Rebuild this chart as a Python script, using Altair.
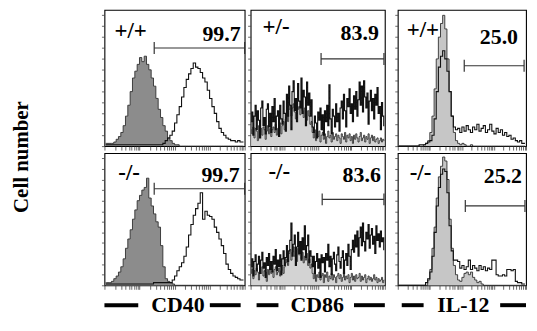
import math
import altair as alt
import pandas as pd

# ---------------- data ----------------
markers = ["CD40", "CD86", "IL-12"]
genotypes = ["+/+", "+/-", "+/+", "-/-", "-/-", "-/-"]
percents = ["99.7", "83.9", "25.0", "99.7", "83.6", "25.2"]
y_title = "Cell number"

# histograms, counts as % of panel height, channels spread evenly over the axis
cd40_wt_ctrl = [2, 2, 2, 2, 3, 5, 7, 10, 15, 22,
                30, 40, 50, 55, 60, 65, 62, 66, 60, 56,
                50, 44, 35, 27, 21, 15, 11, 6, 4, 2,
                1, 1, 0, 0, 0, 0, 0, 0, 0, 0,
                0, 0, 0, 0, 0, 0, 0, 0, 0, 0,
                0, 0, 0, 0, 0, 0, 0, 0, 0, 0]
cd40_wt_stain = [1, 1, 1, 1, 1, 1, 1, 1, 1, 1,
                 1, 1, 1, 1, 1, 1, 1, 1, 1, 1,
                 1, 1, 1, 1, 1, 2, 4, 6, 8, 11,
                 17, 23, 29, 36, 43, 49, 53, 57, 61, 58,
                 57, 54, 50, 47, 41, 35, 29, 24, 18, 13,
                 10, 8, 6, 5, 4, 4, 3, 4, 3, 3]
cd86_het_ctrl = [12, 9, 14, 6, 13, 11, 4, 15, 10, 13,
                 8, 14, 12, 5, 11, 15, 9, 13, 7, 12,
                 14, 10, 16, 8, 13, 11, 17, 9, 15, 18,
                 12, 20, 24, 18, 27, 30, 22, 28, 31, 25,
                 20, 32, 27, 29, 23, 30, 26, 21, 28, 24,
                 19, 26, 22, 16, 18, 10, 6, 12, 4, 9,
                 7, 11, 3, 8, 10, 5, 9, 2, 7, 11,
                 6, 8, 3, 10, 5, 7, 9, 4, 8, 6,
                 2, 9, 7, 5, 10, 3, 8, 6, 9, 4,
                 7, 2, 8, 5, 9, 6, 3, 7, 10, 4,
                 6, 8, 3, 7, 5, 9, 2, 6, 8, 4,
                 7, 3, 5, 6, 2, 4, 6, 3, 5, 4]
cd86_het_stain = [18, 25, 8, 22, 30, 12, 26, 19, 6, 28,
                  33, 15, 21, 9, 27, 31, 14, 24, 10, 29,
                  18, 35, 12, 22, 26, 7, 30, 20, 16, 33,
                  24, 11, 38, 22, 44, 30, 12, 40, 48, 26,
                  35, 18, 46, 33, 28, 50, 24, 41, 36, 15,
                  47, 30, 39, 22, 34, 14, 10, 22, 17, 6,
                  25, 19, 28, 12, 23, 8, 26, 18, 30, 15,
                  45, 20, 9, 27, 22, 14, 31, 18, 24, 11,
                  28, 33, 20, 38, 26, 14, 35, 29, 42, 24,
                  31, 18, 37, 27, 40, 22, 34, 47, 30, 44,
                  25, 48, 36, 28, 39, 16, 33, 41, 26, 35,
                  20, 38, 30, 43, 24, 29, 12, 32, 22, 15]
il12_wt_ctrl = [0, 0, 0, 0, 0, 0, 0, 0, 0, 0,
                0, 0, 1, 2, 4, 10, 22, 42, 64, 80,
                90, 96, 86, 64, 40, 22, 10, 4, 2, 1,
                2, 1, 0, 0, 1, 0, 0, 0, 0, 0,
                0, 0, 0, 0, 0, 0, 0, 0, 0, 0,
                0, 0, 0, 0, 0, 0, 0, 0, 0, 0]
il12_wt_stain = [0, 0, 0, 0, 0, 0, 0, 0, 0, 0,
                 1, 1, 1, 2, 3, 4, 8, 20, 40, 58,
                 66, 70, 64, 55, 40, 22, 14, 12, 13, 10,
                 14, 11, 15, 12, 10, 14, 12, 16, 11, 13,
                 15, 10, 12, 16, 11, 9, 13, 10, 12, 8,
                 10, 7, 8, 5, 6, 4, 3, 4, 2, 2]
cd40_ko_ctrl = [2, 2, 2, 3, 5, 7, 10, 14, 20, 28,
                35, 42, 50, 57, 64, 68, 72, 74, 81, 66,
                60, 54, 48, 44, 30, 14, 5, 3, 2, 1,
                0, 0, 0, 0, 0, 0, 0, 0, 0, 0,
                0, 0, 0, 0, 0, 0, 0, 0, 0, 0,
                0, 0, 0, 0, 0, 0, 0, 0, 0, 0]
cd40_ko_stain = [1, 1, 1, 1, 1, 1, 1, 1, 1, 1,
                 1, 1, 1, 1, 1, 1, 1, 1, 1, 1,
                 1, 2, 2, 2, 2, 2, 2, 2, 2, 4,
                 7, 11, 14, 17, 22, 29, 38, 46, 53, 58,
                 62, 70, 50, 56, 53, 52, 50, 44, 40, 35,
                 30, 24, 16, 12, 9, 7, 6, 5, 4, 4]
cd86_ko_ctrl = [9, 12, 5, 11, 8, 13, 10, 4, 12, 9,
                14, 7, 11, 10, 3, 12, 8, 13, 9, 11,
                6, 12, 14, 8, 10, 13, 7, 11, 15, 9,
                14, 17, 20, 15, 24, 27, 19, 25, 29, 22,
                26, 18, 28, 23, 27, 20, 25, 17, 22, 19,
                24, 15, 20, 13, 16, 9, 5, 11, 3, 8,
                6, 10, 4, 7, 9, 2, 8, 6, 10, 3,
                7, 5, 9, 4, 8, 6, 2, 7, 9, 5,
                8, 3, 6, 10, 4, 7, 5, 8, 2, 6,
                9, 4, 7, 3, 8, 5, 6, 9, 3, 7,
                4, 6, 8, 2, 5, 7, 4, 6, 3, 5,
                8, 4, 6, 2, 5, 3, 4, 6, 2, 4]
cd86_ko_stain = [14, 20, 7, 18, 23, 11, 16, 22, 9, 19,
                 25, 13, 17, 6, 21, 15, 24, 12, 18, 10,
                 22, 16, 27, 11, 19, 14, 23, 8, 20, 26,
                 15, 21, 30, 18, 26, 34, 47, 22, 31, 38,
                 15, 29, 40, 24, 33, 19, 36, 27, 45, 21,
                 30, 38, 17, 26, 22, 14, 22, 9, 18, 24,
                 13, 20, 6, 23, 17, 21, 10, 24, 19, 31,
                 14, 22, 8, 20, 25, 16, 11, 23, 29, 18,
                 13, 21, 26, 9, 19, 24, 15, 31, 22, 12,
                 27, 34, 25, 38, 29, 41, 22, 36, 44, 30,
                 47, 33, 26, 40, 35, 46, 28, 38, 43, 31,
                 37, 24, 45, 34, 39, 29, 41, 33, 36, 27]
il12_ko_ctrl = [0, 0, 0, 0, 0, 0, 0, 0, 0, 0,
                0, 0, 0, 0, 4, 12, 28, 44, 66, 82,
                90, 97, 94, 80, 50, 28, 15, 8, 4, 3,
                6, 9, 10, 8, 10, 6, 4, 2, 3, 1,
                0, 0, 0, 0, 0, 0, 0, 0, 0, 0,
                0, 0, 0, 0, 0, 0, 0, 0, 0, 0]
il12_ko_stain = [0, 0, 0, 0, 0, 0, 0, 0, 0, 0,
                 0, 0, 0, 2, 5, 10, 22, 40, 60, 74,
                 84, 88, 86, 70, 45, 26, 19, 19, 18, 13,
                 15, 12, 14, 19, 12, 15, 13, 11, 15, 12,
                 14, 11, 13, 12, 19, 19, 8, 7, 7, 8,
                 7, 12, 12, 11, 12, 3, 2, 2, 1, 1]

controls = [cd40_wt_ctrl, cd86_het_ctrl, il12_wt_ctrl, cd40_ko_ctrl, cd86_ko_ctrl, il12_ko_ctrl]
stains = [cd40_wt_stain, cd86_het_stain, il12_wt_stain, cd40_ko_stain, cd86_ko_stain, il12_ko_stain]

# gate markers (axis units 0-60 / % height)
gate_start = [21.3, 31.5, 31.1, 21.3, 32.0, 31.6]
gate_end = [60.0, 59.6, 59.1, 60.0, 59.6, 59.5]
gate_level = [72, 64, 59, 73, 65, 60]

# ---------------- layout / style ----------------
XMAX = 60
FONT = "Liberation Serif"
LEFT = 96
col_w = [141, 135, 129]
row_h = [137, 133]
ROW_GAP = 7
fills = ["#8c8c8c", "#d3d3d3", "#c6c6c6"]
geno_pos = [(10, 21), (12, 17), (9, 20), (14, 20), (18, 19), (12, 20)]
pct_pos = [(137, 31), (129, 30), (121, 34), (136, 29), (131, 29), (125, 30)]
# bottom marker labels: text centre x, left dash, right dash (relative px)
mk_pos = [(74, (0, 34), (106, 137)), (67, (6, 28), (104, 135)), (66, (4, 26), (103, 129))]
LAB_DASH = 20
LAB_BASE = 27

xs = alt.Scale(domain=[0, XMAX], nice=False, zero=False)
ys = alt.Scale(domain=[0, 100], nice=False, zero=False)
xticks = sorted(set([15 * (d + math.log10(k)) for d in range(4) for k in range(1, 10)] + [60]))
yticks = list(range(0, 100, 8))


def one(**kw):
    return pd.DataFrame({k: [v] for k, v in kw.items()})


def hist_df(vals, name):
    n = len(vals)
    return pd.DataFrame({"bin": [(j + 0.5) * XMAX / n for j in range(n)], name: vals})


def panel(i):
    row, col = divmod(i, 3)
    w, h = col_w[col], row_h[row]
    xaxis = alt.Axis(title=None, labels=False, grid=False, domain=False, values=xticks,
                     tickSize=4, tickColor="#444", tickWidth=0.8)
    yaxis = alt.Axis(title=None, labels=False, grid=False, domain=False, values=yticks,
                     tickSize=3, tickColor="#444", tickWidth=0.8)
    X = alt.X("bin:Q", scale=xs, axis=xaxis)
    cbase = alt.Chart(hist_df(controls[i], "ctrl"))
    sbase = alt.Chart(hist_df(stains[i], "stain"))
    area = cbase.mark_area(interpolate="step", color=fills[col], opacity=1).encode(
        x=X, y=alt.Y("ctrl:Q", scale=ys, axis=yaxis))
    cline = cbase.mark_line(interpolate="step", color="#303030", strokeWidth=0.9).encode(
        x=X, y=alt.Y("ctrl:Q", scale=ys, axis=yaxis))
    sline = sbase.mark_line(interpolate="step", color="#111111", strokeWidth=1.1).encode(
        x=X, y=alt.Y("stain:Q", scale=ys, axis=yaxis))

    gdf = one(s=gate_start[i], e=gate_end[i], lv=gate_level[i])
    grule = alt.Chart(gdf).mark_rule(color="#333333", strokeWidth=1.2).encode(
        x=alt.X("s:Q", scale=xs, axis=xaxis), x2="e:Q",
        y=alt.Y("lv:Q", scale=ys, axis=yaxis))
    tdf = pd.DataFrame({"gx": [gate_start[i], gate_end[i]], "lv": [gate_level[i]] * 2})
    gticks = alt.Chart(tdf).mark_tick(orient="vertical", size=12, thickness=1.2,
                                      color="#333333", opacity=1).encode(
        x=alt.X("gx:Q", scale=xs, axis=xaxis), y=alt.Y("lv:Q", scale=ys, axis=yaxis))

    gx, gy = geno_pos[i]
    gtxt = alt.Chart(one(t=genotypes[i])).mark_text(
        align="left", baseline="middle", font=FONT, fontSize=23, fontWeight="bold",
        color="black").encode(x=alt.value(gx), y=alt.value(gy), text="t:N")
    px, py = pct_pos[i]
    ptxt = alt.Chart(one(t=percents[i])).mark_text(
        align="right", baseline="alphabetic", font=FONT, fontSize=22, fontWeight="bold",
        color="black").encode(x=alt.value(px), y=alt.value(py), text="t:N")

    layers = [area, cline, sline, grule, gticks, gtxt, ptxt]

    if i == 0:
        layers.append(alt.Chart(one(t=y_title)).mark_text(
            angle=270, align="center", baseline="middle", font=FONT, fontSize=21,
            fontWeight="bold", color="black").encode(
            x=alt.value(-83), y=alt.value(148), text="t:N"))
        # invisible anchor fixing the left edge of the drawing
        layers.append(alt.Chart(one(t=0)).mark_rule(opacity=0, strokeOpacity=0).encode(
            x=alt.value(-LEFT), x2=alt.value(-LEFT), y=alt.value(60), y2=alt.value(61)))
    if row == 1:
        cx, (l0, l1), (r0, r1) = mk_pos[col]
        layers.append(alt.Chart(one(t=markers[col])).mark_text(
            align="center", baseline="alphabetic", font=FONT, fontSize=22,
            fontWeight="bold", color="black").encode(
            x=alt.value(cx), y=alt.value(h + LAB_BASE), text="t:N"))
        for a, b in [(l0, l1), (r0, r1)]:
            layers.append(alt.Chart(one(t=markers[col])).mark_rule(
                color="black", strokeWidth=4).encode(
                x=alt.value(a), x2=alt.value(b), y=alt.value(h + LAB_DASH)))
    return alt.layer(*layers).properties(width=w, height=h)


def spacer(h):
    return alt.Chart(one(t=0)).mark_point(opacity=0, size=1).encode(
        x=alt.value(0.5), y=alt.value(20)).properties(
        width=1, height=h, view=alt.ViewBackground(strokeOpacity=0))


cells = [panel(0), panel(1), spacer(row_h[0]), panel(2),
         panel(3), panel(4), spacer(row_h[1]), panel(5)]

chart = alt.concat(*cells, columns=4).properties(
    spacing={"row": ROW_GAP, "column": 6}, bounds="flush", align="each", padding=0,
    background="white"
).configure_view(stroke="black", strokeWidth=1.1)

chart.save("out.html", embed_options={"renderer": "svg", "actions": False})
